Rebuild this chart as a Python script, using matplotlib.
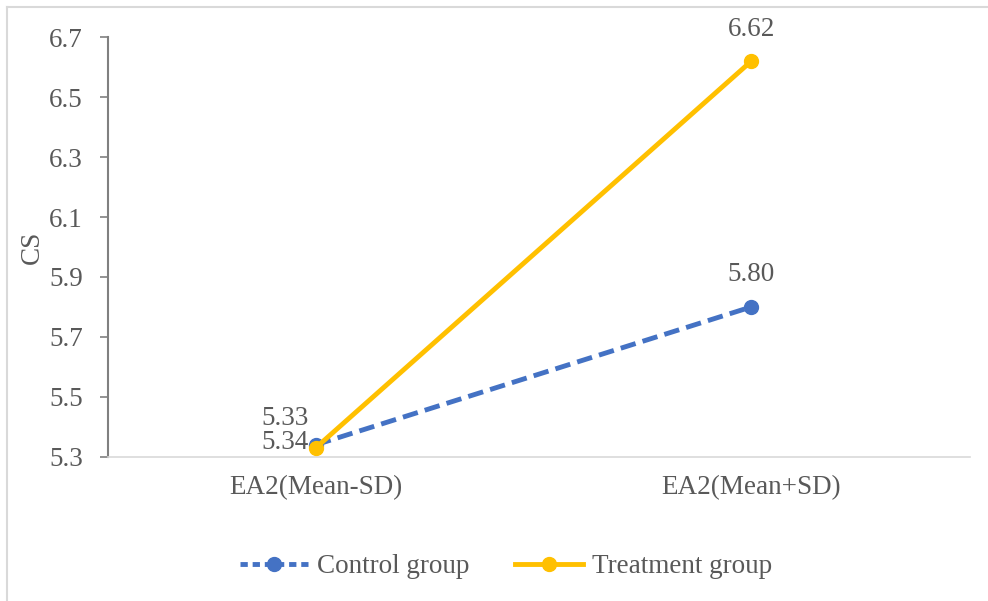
import matplotlib.pyplot as plt
from matplotlib.lines import Line2D

plt.rcParams['font.family'] = ['Liberation Serif', 'DejaVu Serif']

categories = ['EA2(Mean-SD)', 'EA2(Mean+SD)']
control = [5.34, 5.80]
treatment = [5.33, 6.62]
control_labels = ['5.34', '5.80']
treatment_labels = ['5.33', '6.62']
yticks = [5.3, 5.5, 5.7, 5.9, 6.1, 6.3, 6.5, 6.7]

blue = '#4472C4'
gold = '#FFC000'
txt = '#595959'
fs = 19.5

fig = plt.figure(figsize=(9.88, 6.01), dpi=100)
ax = fig.add_axes([0.109, 0.240, 0.873, 0.698])

x = list(range(len(categories)))
dash = (0, (3.2, 1.5))
ax.plot(x, control, color=blue, lw=3.5, ls=dash, marker='o', ms=10,
        label='Control group', zorder=3)
ax.plot(x, treatment, color=gold, lw=3.5, marker='o', ms=10,
        label='Treatment group', zorder=4)

# data labels (the two left ones sit close together, as in the original)
ax.annotate(treatment_labels[0], (x[0], treatment[0]), xytext=(-5, 21),
            textcoords='offset points', ha='right', va='center', fontsize=fs, color=txt)
ax.annotate(control_labels[0], (x[0], control[0]), xytext=(-5, 1.5),
            textcoords='offset points', ha='right', va='center', fontsize=fs, color=txt)
ax.annotate(treatment_labels[1], (x[1], treatment[1]), xytext=(0, 23),
            textcoords='offset points', ha='center', va='center', fontsize=fs, color=txt)
ax.annotate(control_labels[1], (x[1], control[1]), xytext=(0, 23),
            textcoords='offset points', ha='center', va='center', fontsize=fs, color=txt)

ax.set_xlim(-0.478, 1.503)
ax.set_ylim(5.3, 6.7)
ax.set_yticks(yticks)
ax.set_yticklabels([f'{v:.1f}' for v in yticks])
ax.set_xticks(x)
ax.set_xticklabels(categories)
ax.tick_params(axis='y', labelsize=fs, colors=txt, length=6, width=1.2, color='#808080', pad=12)
ax.tick_params(axis='x', labelsize=fs, colors=txt, length=0, pad=13)
ax.set_ylabel('CS', fontsize=fs, color=txt, labelpad=3)

for s in ['top', 'right']:
    ax.spines[s].set_visible(False)
ax.spines['left'].set_color('#808080')
ax.spines['left'].set_linewidth(1.5)
ax.spines['bottom'].set_color('#d9d9d9')
ax.spines['bottom'].set_linewidth(1.2)

handles = [Line2D([], [], color=blue, lw=3.5, ls=(0, (1.5, 1.0)), marker='o', ms=10),
           Line2D([], [], color=gold, lw=3.5, marker='o', ms=10)]
leg = fig.legend(handles, ['Control group', 'Treatment group'], loc='center',
                 bbox_to_anchor=(0.512, 0.057), ncol=2, frameon=False, fontsize=fs,
                 handlelength=2.5, columnspacing=1.7, handletextpad=0.33)
for t in leg.get_texts():
    t.set_color(txt)

# chart area border (left and top visible)
fig.add_artist(Line2D([0.007, 0.007], [0, 0.988], color='#d9d9d9', lw=1.5,
                      transform=fig.transFigure))
fig.add_artist(Line2D([0.007, 1], [0.988, 0.988], color='#d9d9d9', lw=1.5,
                      transform=fig.transFigure))

fig.savefig('out.png', dpi=100)
